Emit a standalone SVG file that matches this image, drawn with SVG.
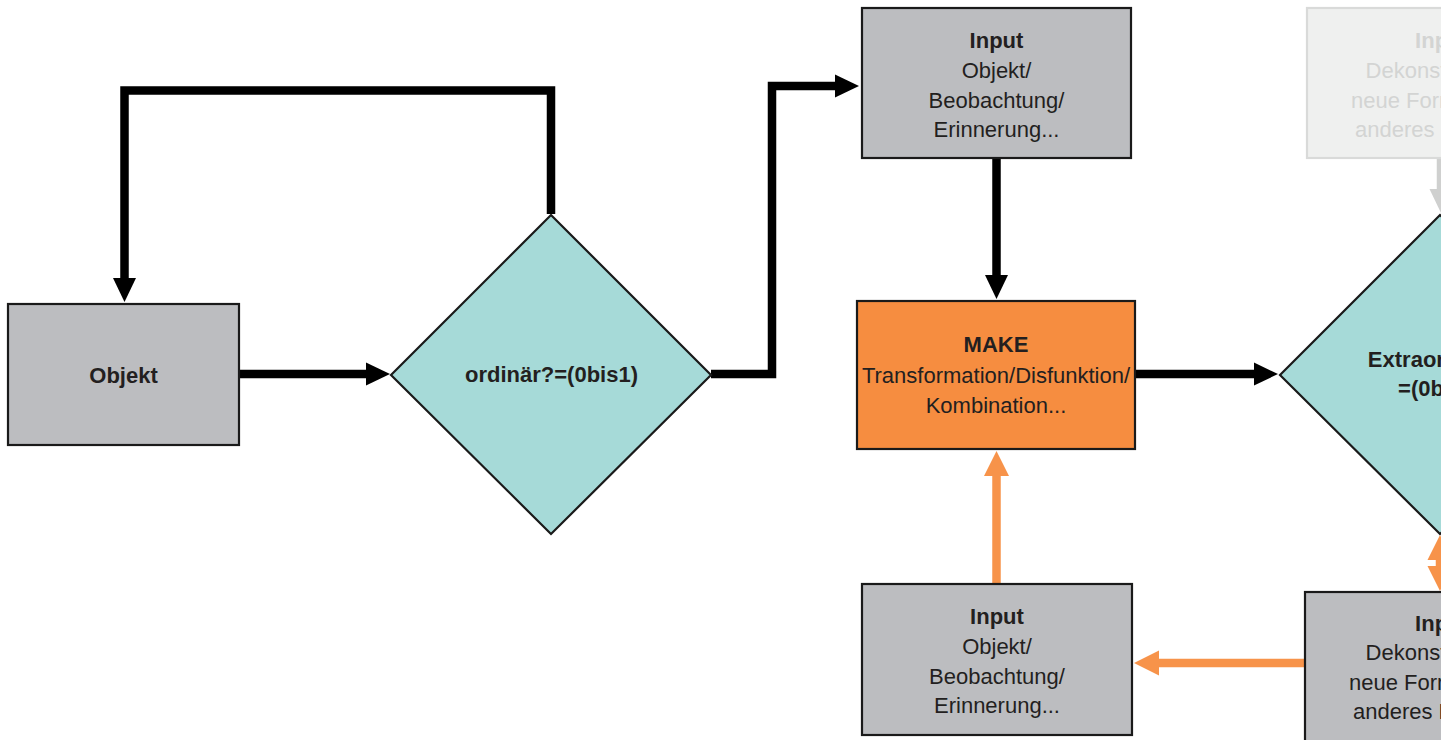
<svg xmlns="http://www.w3.org/2000/svg" width="1441" height="740" viewBox="0 0 1441 740">
  <style>
    .box { fill: #bcbdc0; stroke: #1a1a1a; stroke-width: 2.2; }
    .make { fill: #f68d40; stroke: #1a1a1a; stroke-width: 2.2; }
    .ghost { fill: #eff0ef; stroke: #d9dad9; stroke-width: 2.2; }
    .dia { fill: #a6dad8; stroke: #1a1a1a; stroke-width: 2.2; }
    text { font-family: "Liberation Sans", Arial, sans-serif; font-size: 22px; fill: #231f20; text-anchor: middle; }
    .b { font-weight: bold; }
    .faint { fill: #d3d4d3; }
    .st { text-anchor: start; }
    .link { fill: none; stroke-width: 8.5; stroke-linejoin: miter; stroke-linecap: butt; }
    .k { stroke: #000; }
    .o { stroke: #f7934a; }
    .g { stroke: #cfd0cf; }
  </style>
  <defs>
    <marker id="headK" markerUnits="userSpaceOnUse" markerWidth="25" markerHeight="23" refX="1" refY="11.5" orient="auto-start-reverse" overflow="visible">
      <path d="M0,0 L24,11.5 L0,23 Z" fill="#000"/>
    </marker>
    <marker id="headO" markerUnits="userSpaceOnUse" markerWidth="25" markerHeight="25" refX="1" refY="12.5" orient="auto-start-reverse" overflow="visible">
      <path d="M0,0 L25,12.5 L0,25 Z" fill="#f7934a"/>
    </marker>
    <marker id="headG" markerUnits="userSpaceOnUse" markerWidth="25" markerHeight="23" refX="1" refY="11.5" orient="auto" overflow="visible">
      <path d="M0,0 L24,11.5 L0,23 Z" fill="#cfd0cf"/>
    </marker>
  </defs>

  <!-- connectors -->
  <g id="connectors">
    <path class="link k" d="M239,374 H367" marker-end="url(#headK)"/>
    <path class="link k" d="M551,214 V90.5 H124.5 V279" marker-end="url(#headK)"/>
    <path class="link k" d="M711,374 H772 V86 H836" marker-end="url(#headK)"/>
    <path class="link k" d="M996.5,158 V276" marker-end="url(#headK)"/>
    <path class="link k" d="M1135,374 H1255" marker-end="url(#headK)"/>
    <path class="link o" d="M996.5,584 V475" marker-end="url(#headO)"/>
    <path class="link o" d="M1305,663 H1158" marker-end="url(#headO)"/>
    <path class="link o" d="M1440,559 V567" marker-start="url(#headO)" marker-end="url(#headO)"/>
    <path class="link g" d="M1441,158 V190" marker-end="url(#headG)"/>
  </g>

  <!-- Objekt -->
  <g id="node-objekt">
    <rect class="box" x="8" y="304" width="231" height="141"/>
    <text class="b" x="123.5" y="383">Objekt</text>
  </g>

  <!-- ordinär? decision -->
  <g id="node-ordinaer">
    <polygon class="dia" points="551,215 711,375 551,534 391,375"/>
    <text class="b" x="551.5" y="382">ordinär?=(0bis1)</text>
  </g>

  <!-- Input (top) -->
  <g id="node-input-top">
    <rect class="box" x="862" y="8" width="269" height="150"/>
    <text class="b" x="996.5" y="48">Input</text>
    <text x="996.5" y="78">Objekt/</text>
    <text x="996.5" y="108">Beobachtung/</text>
    <text x="996.5" y="137">Erinnerung...</text>
  </g>

  <!-- MAKE -->
  <g id="node-make">
    <rect class="make" x="857" y="301" width="278" height="148"/>
    <text class="b" x="996" y="352">MAKE</text>
    <text x="996" y="383">Transformation/Disfunktion/</text>
    <text x="996" y="413">Kombination...</text>
  </g>

  <!-- Input (bottom) -->
  <g id="node-input-bottom">
    <rect class="box" x="862" y="584" width="270" height="151"/>
    <text class="b" x="997" y="624">Input</text>
    <text x="997" y="654">Objekt/</text>
    <text x="997" y="684">Beobachtung/</text>
    <text x="997" y="713">Erinnerung...</text>
  </g>

  <!-- Extraordinär? decision -->
  <g id="node-extraordinaer">
    <polygon class="dia" points="1440,215 1600,375 1440,534 1280,375"/>
    <text class="b" x="1440" y="367">Extraordinär?</text>
    <text class="b" x="1440" y="396">=(0bis1)</text>
  </g>

  <!-- faded Input (top right) -->
  <g id="node-input-faded">
    <rect class="ghost" x="1307" y="8" width="270" height="150"/>
    <text class="b faint" x="1442" y="48">Input</text>
    <text class="faint" x="1442" y="78">Dekonstruktion/</text>
    <text class="faint st" x="1351" y="108">neue Form</text>
    <text class="faint st" x="1355" y="137">anderes K</text>
  </g>

  <!-- Input (bottom right) -->
  <g id="node-input-right">
    <rect class="box" x="1305" y="592" width="270" height="151"/>
    <text class="b" x="1442" y="631">Input</text>
    <text x="1442" y="660">Dekonstruktion/</text>
    <text class="st" x="1349" y="690">neue Form</text>
    <text class="st" x="1353" y="719">anderes K</text>
  </g>
</svg>
